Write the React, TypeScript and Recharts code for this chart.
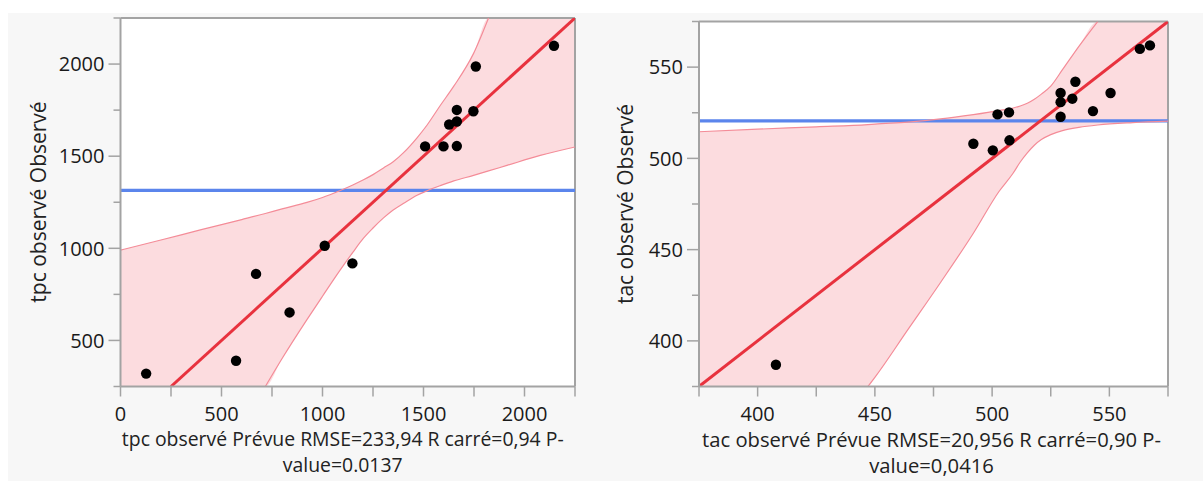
import React from 'react';
import { ComposedChart, XAxis, YAxis, Area, Line, Scatter, ReferenceLine, CartesianGrid } from 'recharts';

// ---------- tpc panel data ----------
const tpcPredicted = [127, 572, 671, 837, 1011, 1148, 1508, 1599, 1665, 1627, 1665, 1665, 1747, 1759, 2146];
const tpcObserved = [320, 390, 861, 652, 1014, 918, 1553, 1553, 1555, 1672, 1688, 1751, 1744, 1987, 2099];
const tpcMean = 1314;
const tpcFitX = [250, 2250];
const tpcFitY = [250, 2250];
const tpcBandX = [0, 200, 400, 600, 717, 800, 923, 1000, 1088, 1150, 1203, 1250, 1302, 1350, 1400, 1468, 1517, 1583, 1650, 1748, 1822, 1913, 2078, 2250];
const tpcBandLo = [250, 250, 250, 250, 250, 402, 613, 740, 883, 978, 1055, 1110, 1165, 1208, 1243, 1288, 1312, 1340, 1366, 1396, 1420, 1450, 1504, 1550];
const tpcBandHi = [990, 1045, 1101, 1156, 1189, 1214, 1249, 1276, 1314, 1344, 1372, 1400, 1436, 1470, 1518, 1600, 1668, 1775, 1880, 2058, 2250, 2250, 2250, 2250];
const tpcXTicks = [0, 250, 500, 750, 1000, 1250, 1500, 1750, 2000, 2250];
const tpcXLabels = [0, 500, 1000, 1500, 2000];
const tpcYTicks = [250, 500, 750, 1000, 1250, 1500, 1750, 2000, 2250];
const tpcYLabels = [500, 1000, 1500, 2000];

// ---------- tac panel data ----------
const tacPredicted = [407.8, 492, 500.3, 502.3, 507.2, 507.4, 529.2, 529.2, 529.2, 534.2, 535.5, 543, 550.5, 563, 567.3];
const tacObserved = [386.9, 508, 504.4, 524.1, 525.2, 509.9, 535.8, 530.8, 522.8, 532.7, 542, 525.9, 535.8, 560, 561.9];
const tacMean = 520.6;
const tacFitX = [375, 575];
const tacFitY = [375, 575];
const tacBandX = [375, 400, 425, 447, 450, 464, 478, 492, 503, 509, 512, 515, 518, 521, 525, 530, 537, 545, 560, 575];
const tacBandLo = [375, 375, 375, 375, 380, 406, 432, 459, 482, 492, 498, 503, 507.2, 510.3, 513, 515.2, 517, 518.3, 519.6, 520.4];
const tacBandHi = [514.6, 516, 517.3, 518.5, 518.8, 519.9, 521.6, 524, 526.2, 527.6, 528.7, 530.2, 532.4, 535.2, 539.6, 548.6, 561.4, 575, 575, 575];
const tacXTicks = [375, 400, 425, 450, 475, 500, 525, 550, 575];
const tacXLabels = [400, 450, 500, 550];
const tacYTicks = [375, 400, 425, 450, 475, 500, 525, 550, 575];
const tacYLabels = [400, 450, 500, 550];

const FONT = "'Open Sans', 'Noto Sans', sans-serif";
const AXIS_GRAY = '#a3a3a3';

type PanelProps = {
  left: number; width: number;
  plotLeft: number; plotRight: number; plotTop: number; plotBottom: number;
  px: number[]; py: number[]; mean: number;
  fitX: number[]; fitY: number[];
  bandX: number[]; bandLo: number[]; bandHi: number[];
  xDomain: [number, number]; yDomain: [number, number];
  xTicks: number[]; xLabels: number[]; yTicks: number[]; yLabels: number[];
  yTitle: string; xTitle1: string; xTitle2: string;
  yTitleX: number; titleSize: number; titleShift: number;
};

function Panel(p: PanelProps) {
  const H = 481;
  const yAxisW = 60;
  const xAxisH = 40;
  const [xMin, xMax] = p.xDomain;
  const [yMin, yMax] = p.yDomain;
  const points = p.px.map((x, i) => ({ x, y: p.py[i] }));
  const fit = p.fitX.map((x, i) => ({ x, y: p.fitY[i] }));
  const meanLine = [{ x: xMin, y: p.mean }, { x: xMax, y: p.mean }];
  const n = p.bandX.length;
  const band = p.bandX.map((x, i) => ({
    x,
    band: [p.bandLo[i], p.bandHi[i]],
    lo: p.bandLo[i] > yMin || (i + 1 < n && p.bandLo[i + 1] > yMin) ? p.bandLo[i] : null,
    hi: p.bandHi[i] < yMax || (i > 0 && p.bandHi[i - 1] < yMax) ? p.bandHi[i] : null,
  }));

  const YTick = (t: any) => {
    const v = t.payload.value;
    const major = p.yLabels.includes(v);
    const len = major ? 12 : 7;
    return (
      <g>
        <line x1={t.x - len} x2={t.x} y1={t.y} y2={t.y} stroke={AXIS_GRAY} strokeWidth={1.5} />
        {major && (
          <text x={t.x - len - 4} y={t.y} dy="0.36em" textAnchor="end" fontSize={20} fontFamily={FONT} fill="#1a1a1a">
            {v}
          </text>
        )}
      </g>
    );
  };
  const XTick = (t: any) => {
    const v = t.payload.value;
    const major = p.xLabels.includes(v);
    return (
      <g>
        <line x1={t.x} x2={t.x} y1={t.y} y2={t.y + 10} stroke={AXIS_GRAY} strokeWidth={1.5} />
        {major && (
          <text x={t.x} y={t.y + 34} textAnchor="middle" fontSize={20} fontFamily={FONT} fill="#1a1a1a">
            {v}
          </text>
        )}
      </g>
    );
  };

  const margin = {
    top: p.plotTop,
    bottom: H - p.plotBottom - xAxisH,
    left: p.plotLeft - p.left - yAxisW,
    right: p.left + p.width - p.plotRight,
  };
  const plotCenter = (p.plotLeft + p.plotRight) / 2 + p.titleShift;

  return (
    <>
      <div style={{ position: 'absolute', left: p.left, top: 0 }}>
        <ComposedChart width={p.width} height={H} margin={margin}>
          <CartesianGrid horizontal={false} vertical={false} fill="#ffffff" />
          <XAxis
            type="number" dataKey="x" domain={p.xDomain} allowDataOverflow ticks={p.xTicks} interval={0}
            height={xAxisH} tickSize={0} tickMargin={0} tick={XTick}
            axisLine={{ stroke: AXIS_GRAY, strokeWidth: 2 }}
          />
          <YAxis
            type="number" dataKey="y" domain={p.yDomain} allowDataOverflow ticks={p.yTicks} interval={0}
            width={yAxisW} tickSize={0} tickMargin={0} tick={YTick}
            axisLine={{ stroke: AXIS_GRAY, strokeWidth: 2 }}
          />
          <ReferenceLine y={yMax} stroke={AXIS_GRAY} strokeWidth={2} />
          <ReferenceLine x={xMax} stroke={AXIS_GRAY} strokeWidth={2} />
          <Line data={meanLine} dataKey="y" stroke="#5b85ec" strokeWidth={3.2} dot={false} isAnimationActive={false} />
          <Area data={band} dataKey="band" type="monotone" stroke="none" fill="#ee4f60" fillOpacity={0.2} isAnimationActive={false} />
          <Line data={band} dataKey="hi" type="monotone" stroke="#f48c98" strokeWidth={1.2} dot={false} connectNulls={false} isAnimationActive={false} />
          <Line data={band} dataKey="lo" type="monotone" stroke="#f48c98" strokeWidth={1.2} dot={false} connectNulls={false} isAnimationActive={false} />
          <Line data={fit} dataKey="y" stroke="#e8323e" strokeWidth={3} dot={false} isAnimationActive={false} />
          <Scatter
            data={points} dataKey="y" isAnimationActive={false}
            shape={(s: any) => <circle cx={s.cx} cy={s.cy} r={5.2} fill="#000" />}
          />
        </ComposedChart>
      </div>
      <div
        style={{
          position: 'absolute', left: p.yTitleX - 150, top: (p.plotTop + p.plotBottom) / 2 - 14,
          width: 300, height: 28, lineHeight: '28px', textAlign: 'center',
          transform: 'rotate(-90deg)', fontFamily: FONT, fontSize: 21, color: '#222', whiteSpace: 'nowrap',
        }}
      >
        {p.yTitle}
      </div>
      <div
        style={{
          position: 'absolute', left: plotCenter - 300, top: 426, width: 600, textAlign: 'center',
          fontFamily: FONT, fontSize: p.titleSize, lineHeight: '26px', color: '#222', whiteSpace: 'nowrap',
        }}
      >
        <div>{p.xTitle1}</div>
        <div>{p.xTitle2}</div>
      </div>
    </>
  );
}

export default function App() {
  return (
    <div style={{ position: 'absolute', left: 0, top: 0, width: 1203, height: 481, background: '#ffffff', overflow: 'hidden' }}>
      <div style={{ position: 'absolute', left: 8, top: 13, width: 1195, height: 468, background: '#f7f7f7' }} />
      <Panel
        left={0} width={600} plotLeft={120.5} plotRight={575} plotTop={18} plotBottom={386.5}
        px={tpcPredicted} py={tpcObserved} mean={tpcMean}
        fitX={tpcFitX} fitY={tpcFitY}
        bandX={tpcBandX} bandLo={tpcBandLo} bandHi={tpcBandHi}
        xDomain={[0, 2250]} yDomain={[250, 2250]}
        xTicks={tpcXTicks} xLabels={tpcXLabels} yTicks={tpcYTicks} yLabels={tpcYLabels}
        yTitle="tpc observé Observé"
        xTitle1="tpc observé Prévue RMSE=233,94 R carré=0,94 P-"
        xTitle2="value=0.0137"
        yTitleX={38} titleSize={19.4} titleShift={-5}
      />
      <Panel
        left={600} width={603} plotLeft={699} plotRight={1168} plotTop={21.5} plotBottom={386.5}
        px={tacPredicted} py={tacObserved} mean={tacMean}
        fitX={tacFitX} fitY={tacFitY}
        bandX={tacBandX} bandLo={tacBandLo} bandHi={tacBandHi}
        xDomain={[375, 575]} yDomain={[375, 575]}
        xTicks={tacXTicks} xLabels={tacXLabels} yTicks={tacYTicks} yLabels={tacYLabels}
        yTitle="tac observé Observé"
        xTitle1="tac observé Prévue RMSE=20,956 R carré=0,90 P-"
        xTitle2="value=0,0416"
        yTitleX={625} titleSize={20.2} titleShift={-2}
      />
    </div>
  );
}
